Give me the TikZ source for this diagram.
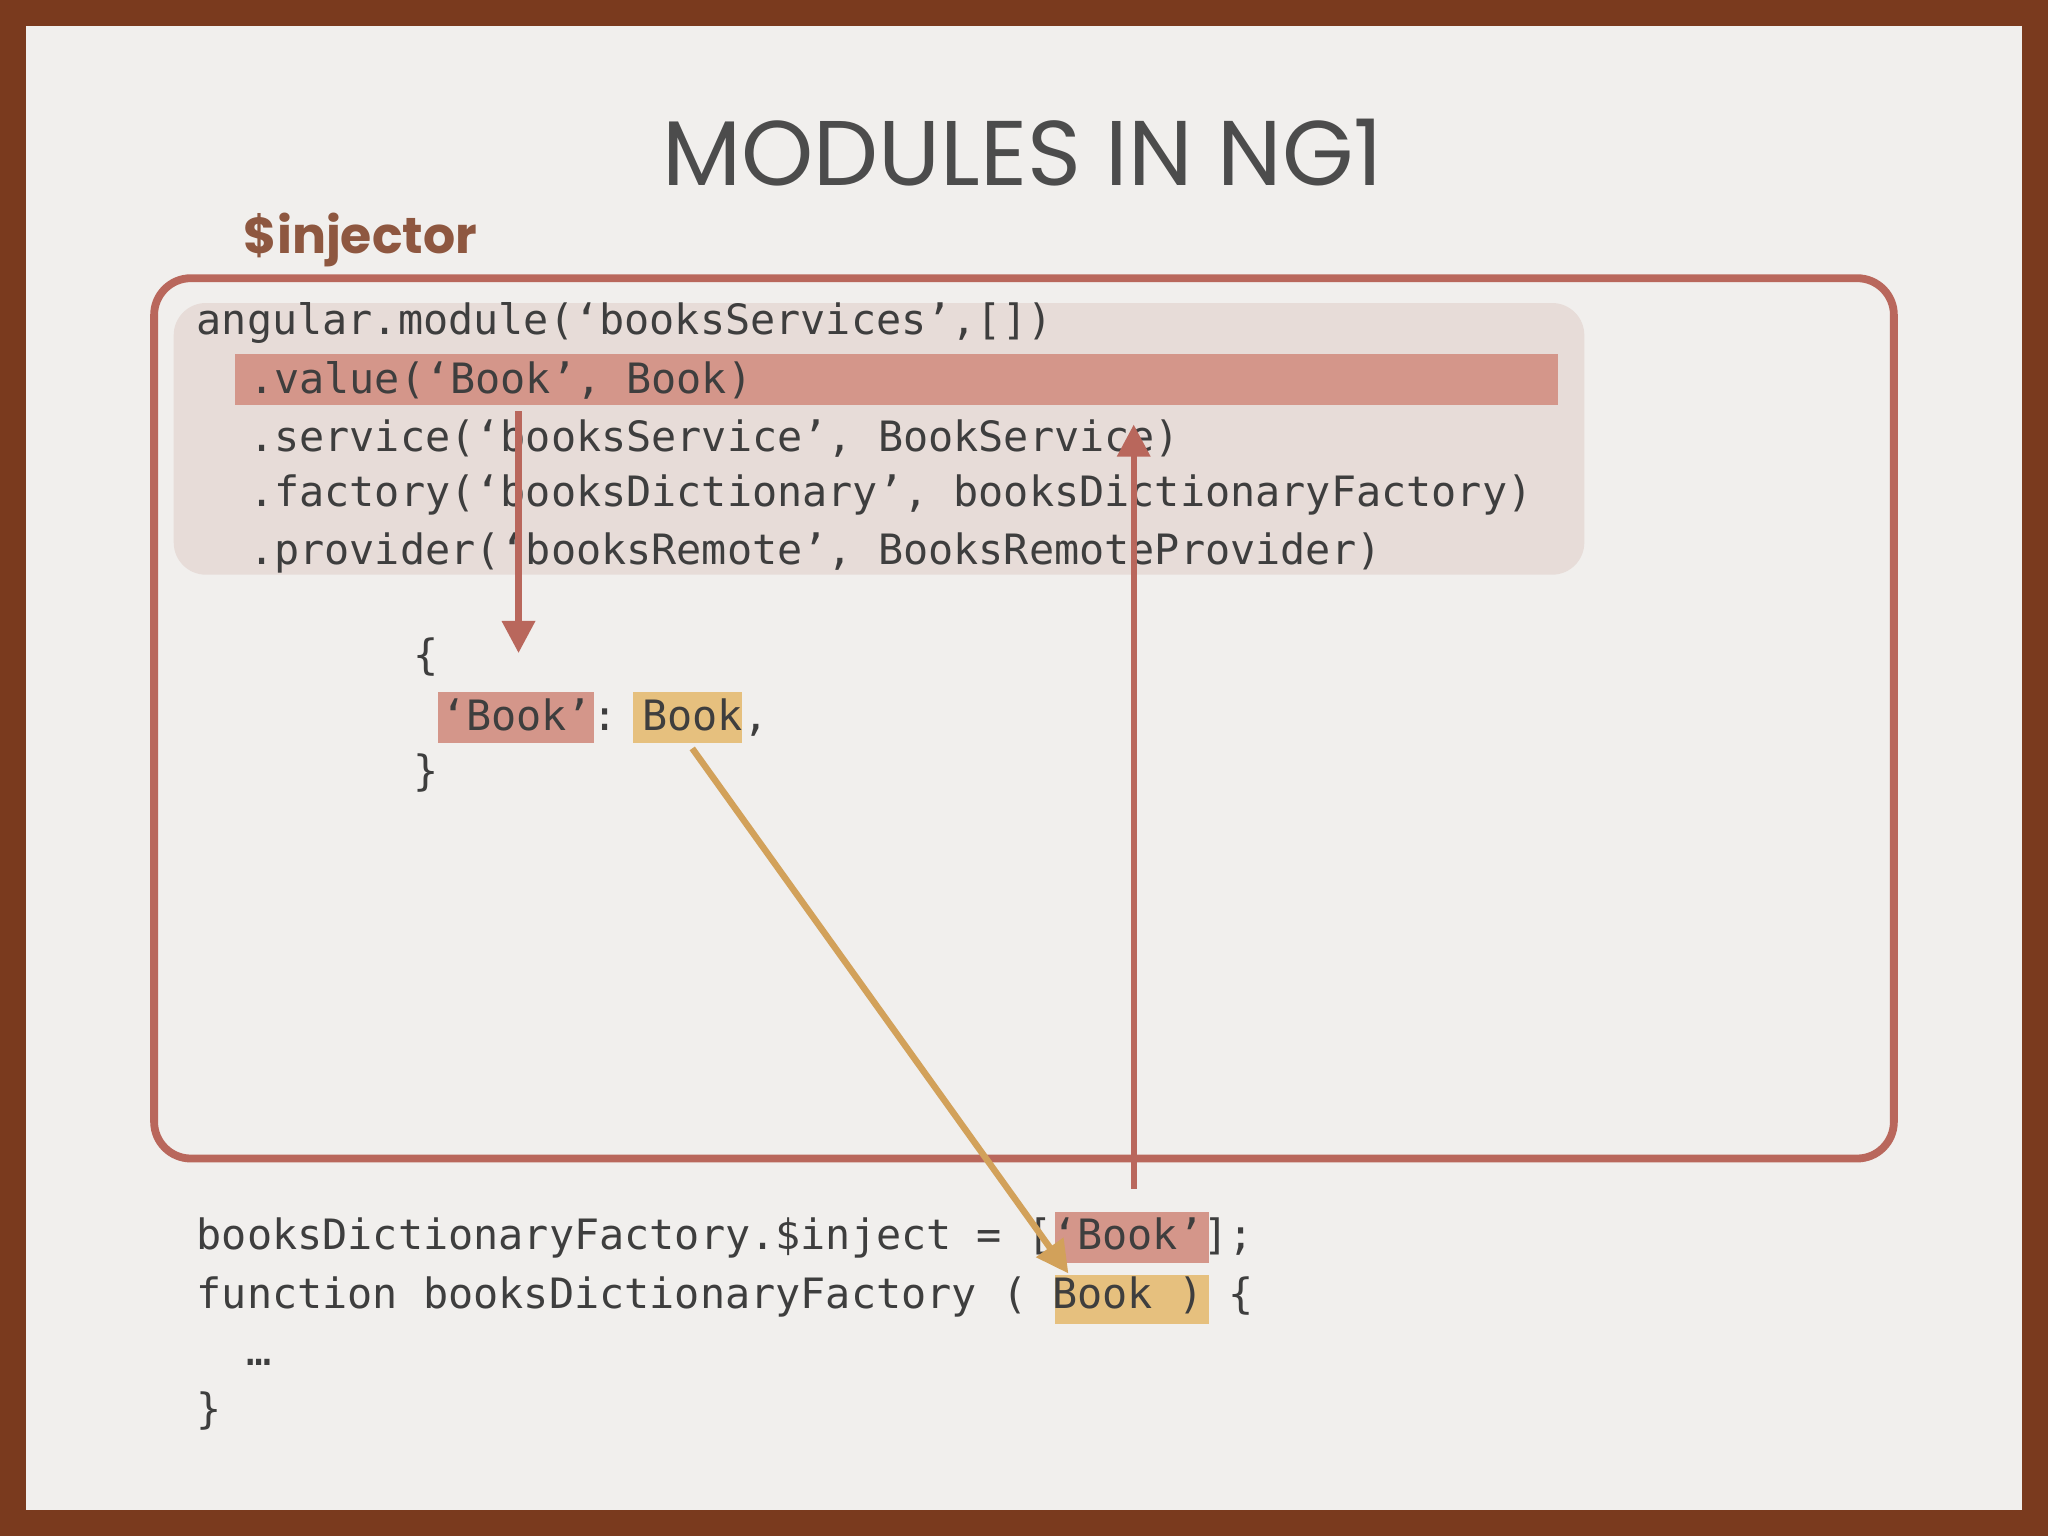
\documentclass[tikz,border=0pt]{standalone}
\usepackage{fontspec}
\setmonofont{DejaVu Sans Mono}
\newfontfamily\titlefont{Poppins}
\usetikzlibrary{arrows.meta}
\definecolor{brownfr}{HTML}{7A3A1E}
\definecolor{bgc}{HTML}{F1EFED}
\definecolor{redc}{HTML}{B9675C}
\definecolor{redhl}{HTML}{D4968A}
\definecolor{codebg}{HTML}{E7DCD8}
\definecolor{goldc}{HTML}{D2A15A}
\definecolor{goldhl}{HTML}{E6C07E}
\definecolor{codec}{HTML}{3E3E3E}
\tikzset{code/.style={anchor=west,inner sep=0pt,font=\ttfamily\fontsize{9.1}{11}\selectfont,text=codec},
redarr/.style={draw=redc,line width=1.4pt,-{Triangle[length=7pt,width=7pt]}},
goldarr/.style={draw=goldc,line width=1.4pt,-{Triangle[length=7pt,width=7pt]}}}
\begin{document}
\begin{tikzpicture}[x=0.01cm,y=-0.01cm]
\fill[brownfr] (0,0) rectangle (1568,1176);
\fill[bgc] (20,20) rectangle (1548,1156);
\node[font=\titlefont\fontsize{20}{24}\selectfont,text=black!70] (title) at (783,117) {MODULES IN NG1};
\node[anchor=west,inner sep=0pt,font=\titlefont\fontsize{11}{13}\selectfont\bfseries,text=brownfr!85] (inj) at (186,184) {\$injector};
\draw[redc,line width=1.7pt,rounded corners=8pt] (118,213) rectangle (1450,887);
\fill[codebg,rounded corners=7pt] (133,232) rectangle (1213,440);
\fill[redhl] (180,271) rectangle (1193,310);
\node[code] (l1) at (150,247) {angular.module(‘booksServices’,[])};
\node[code] (l2) at (190,291) {.value(‘Book’, Book)};
\node[code] (l3) at (190,336) {.service(‘booksService’, BookService)};
\node[code] (l4) at (190,379) {.factory(‘booksDictionary’, booksDictionaryFactory)};
\node[code] (l5) at (190,423) {.provider(‘booksRemote’, BooksRemoteProvider)};
\fill[redhl] (335,530) rectangle (455,569);
\fill[goldhl] (485,530) rectangle (568,569);
\node[code] (ob) at (316,503) {\{};
\node[code] (kv) at (337,549) {‘Book’: Book,};
\node[code] (cb) at (316,592) {\}};
\fill[redhl] (808,928) rectangle (926,967);
\fill[goldhl] (808,976) rectangle (926,1014);
\node[code] (b1) at (150,948) {booksDictionaryFactory.\$inject = [‘Book’];};
\node[code] (b2) at (150,993) {function booksDictionaryFactory  ( Book ) \{};
\node[code] (b3) at (188,1043) {…};
\node[code] (b4) at (150,1080) {\}};
\coordinate (a1s) at (397,315); \coordinate (a1e) at (397,500);
\coordinate (a2s) at (868,910); \coordinate (a2e) at (868,325);
\coordinate (a3s) at (530,573); \coordinate (a3e) at (818,975);
\draw[redarr] (a1s) -- (a1e);
\draw[redarr] (a2s) -- (a2e);
\draw[goldarr] (a3s) -- (a3e);
\end{tikzpicture}
\end{document}
